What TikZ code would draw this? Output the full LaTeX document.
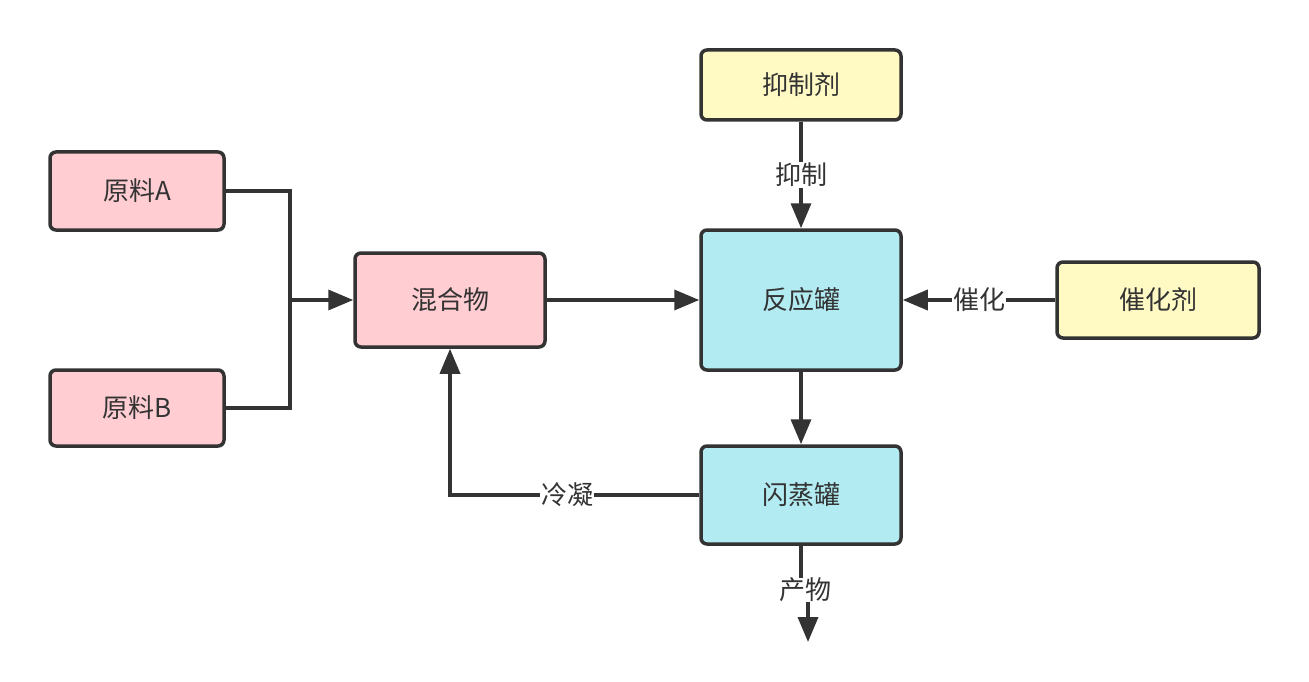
\documentclass[tikz,border=0pt]{standalone}
\usepackage{fontspec}
\setmainfont{Noto Sans CJK SC}
\usetikzlibrary{arrows.meta}
\definecolor{ln}{HTML}{333333}
\definecolor{pinkf}{HTML}{FFCDD2}
\definecolor{yelf}{HTML}{FFF9C4}
\definecolor{cyanf}{HTML}{B2EBF2}
\tikzset{
  box/.style={draw=ln, line width=3.5pt, rounded corners=6pt, text=ln, font=\fontsize{26}{30}\selectfont, inner sep=0pt},
  pinkbox/.style={box, fill=pinkf},
  yelbox/.style={box, fill=yelf},
  cyanbox/.style={box, fill=cyanf},
  conn/.style={draw=ln, line width=3.5pt},
  arr/.style={conn, -{Triangle[length=25pt,width=20pt]}},
  lbl/.style={fill=white, text=ln, font=\fontsize{26}{30}\selectfont, inner sep=1pt}
}
\begin{document}
\begin{tikzpicture}[x=1pt,y=-1pt]
\useasboundingbox (0,0) rectangle (1309,682);
\node[pinkbox, minimum width=174pt, minimum height=78pt] (ra) at (137,191) {原料A};
\node[pinkbox, minimum width=174pt, minimum height=76pt] (rb) at (137,408) {原料B};
\node[pinkbox, minimum width=190pt, minimum height=94pt] (mix) at (450,300) {混合物};
\node[cyanbox, minimum width=200pt, minimum height=140pt] (re) at (801,300) {反应罐};
\node[yelbox, minimum width=200pt, minimum height=70pt] (inh) at (801,85) {抑制剂};
\node[yelbox, minimum width=202pt, minimum height=76pt] (cat) at (1158,300) {催化剂};
\node[cyanbox, minimum width=200pt, minimum height=98pt] (fl) at (801,495) {闪蒸罐};
\coordinate (j) at (290,300);
\coordinate (cd) at (450,495);
\coordinate (pe) at (808,642);
% feeds
\draw[conn] (ra.east) -| (j);
\draw[conn] (rb.east) -| (j);
\draw[arr] (j) -- (mix.west);
\draw[arr] (mix.east) -- (re.west);
\draw[arr] (inh.south) -- node[lbl, pos=0.5] {抑制} (re.north);
\draw[arr] (cat.west) -- node[lbl, pos=0.5] {催化} (re.east);
\draw[arr] (re.south) -- (fl.north);
\draw[arr] (fl.west) -- node[lbl, pos=0.53] {冷凝} (cd) -- (mix.south);
\node[lbl, inner sep=0pt] (pl) at (805,590) {产物};
\draw[conn] (fl.south) -- (fl.south |- pl.north);
\draw[arr] (pe |- pl.south) -- (pe);
\end{tikzpicture}
\end{document}
